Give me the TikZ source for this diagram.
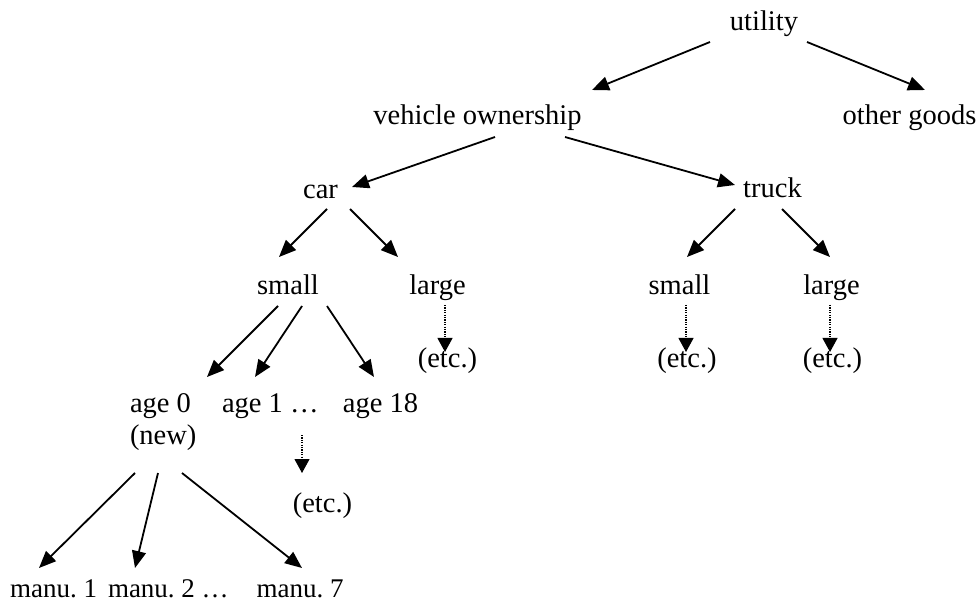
\documentclass[tikz,border=0pt]{standalone}
\usepackage{fontspec}
\setmainfont{Liberation Serif}
\usetikzlibrary{arrows.meta,calc}
\frenchspacing
\tikzset{
  lbl/.style={inner sep=0pt, outer sep=0pt, font=\fontsize{28.5}{34}\selectfont},
  lblm/.style={inner sep=0pt, outer sep=0pt, font=\fontsize{27}{32}\selectfont},
  arr/.style={line width=1.8pt, -{Triangle[length=17pt,width=14pt]}},
  darr/.style={line width=1.1pt, dash pattern=on 1.2pt off 1.2pt, -{Triangle[length=14pt,width=15pt]}}
}
\begin{document}
\begin{tikzpicture}[x=1pt,y=-1pt]
\useasboundingbox (0,0) rectangle (980,609);
% nodes
\node[lbl,anchor=base] (u) at (764,31) {utility};
\node[lbl,anchor=base] (vo) at (477.5,125) {vehicle ownership};
\node[lbl,anchor=base] (og) at (909.5,125) {other goods};
\node[lbl,anchor=base] (car) at (320.5,199) {car};
\node[lbl,anchor=base] (truck) at (772.5,198) {truck};
\node[lbl,anchor=base] (smallL) at (288,295) {small};
\node[lbl,anchor=base] (largeL) at (437.5,295) {large};
\node[lbl,anchor=base] (smallR) at (679.5,295) {small};
\node[lbl,anchor=base] (largeR) at (831.5,295) {large};
\node[lbl,anchor=base] (etcA) at (447.5,368) {(etc.)};
\node[lbl,anchor=base] (etcB) at (687,368) {(etc.)};
\node[lbl,anchor=base] (etcC) at (832.5,368) {(etc.)};
\node[lbl,anchor=base west] (age0) at (130,413) {age 0};
\node[lbl,anchor=base west] (new) at (130,445) {(new)};
\node[lbl,anchor=base west] (age1) at (222,413) {age 1 …};
\node[lbl,anchor=base] (age18) at (380.5,413) {age 18};
\node[lbl,anchor=base] (etcD) at (322.5,512) {(etc.)};
\node[lblm,anchor=base] (m1) at (53.5,597) {manu. 1};
\node[lblm,anchor=base west] (m2) at (108,597) {manu. 2 …};
\node[lblm,anchor=base] (m7) at (300,597) {manu. 7};
% connectors
\draw[arr] ($(u.base)+(-54,11)$) -- ($(vo.base)+(114.5,-35)$);
\draw[arr] ($(u.base)+(43,11)$) -- ($(og.base)+(15.5,-35)$);
\draw[arr] ($(vo.base)+(17.5,12)$) -- ($(car.base)+(31.5,-12)$);
\draw[arr] ($(vo.base)+(87.5,12)$) -- ($(truck.base)+(-37.5,-13)$);
\draw[arr] ($(car.base)+(6.5,10)$) -- ($(smallL.base)+(-9,-38)$);
\draw[arr] ($(car.base)+(29.5,10)$) -- ($(largeL.base)+(-39.5,-38)$);
\draw[arr] ($(truck.base)+(-37.5,11)$) -- ($(smallR.base)+(7.5,-38)$);
\draw[arr] ($(truck.base)+(9.5,11)$) -- ($(largeR.base)+(-1.5,-38)$);
\draw[arr] ($(smallL.base)+(-10,11)$) -- ($(age0.base west)+(77,-36)$);
\draw[arr] ($(smallL.base)+(14,11)$) -- ($(age1.base west)+(33,-36)$);
\draw[arr] ($(smallL.base)+(39,11)$) -- ($(age18.base)+(-6.5,-36)$);
\draw[darr] ($(largeL.base)+(7.5,10)$) -- ($(etcA.base)+(-2.5,-16)$);
\draw[darr] ($(smallR.base)+(6.5,10)$) -- ($(etcB.base)+(-1,-16)$);
\draw[darr] ($(largeR.base)+(-1.5,10)$) -- ($(etcC.base)+(-2.5,-16)$);
\draw[darr] ($(age1.base west)+(80,22)$) -- ($(etcD.base)+(-20.5,-39)$);
\draw[arr] ($(new.base west)+(5,28)$) -- ($(m1.base)+(-14.5,-29)$);
\draw[arr] ($(new.base west)+(28,28)$) -- ($(m2.base west)+(27,-29)$);
\draw[arr] ($(new.base west)+(52,28)$) -- ($(m7.base)+(2,-29)$);
\end{tikzpicture}
\end{document}
